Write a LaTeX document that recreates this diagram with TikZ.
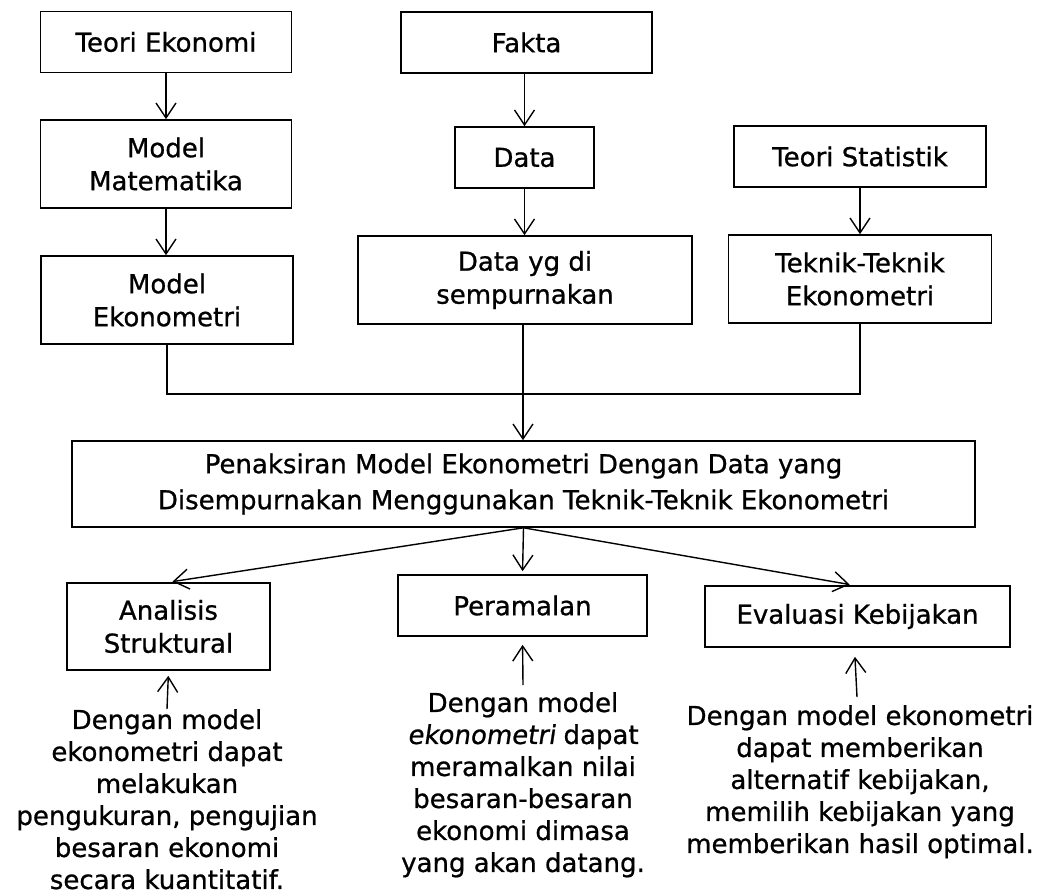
\documentclass[tikz,border=0pt]{standalone}
\usepackage{fontspec}
\setmainfont{DejaVu Sans}
\newfontfamily\diagfont{DejaVu Sans}[FakeBold=0.8,AutoFakeSlant=0.15]
\usetikzlibrary{arrows.meta}
\tikzset{
  box/.style={draw, line width=1.6pt, align=center, inner sep=0pt,
    font=\diagfont\fontsize{26}{33}\selectfont},
  desc/.style={align=center, inner sep=0pt, anchor=north,
    font=\diagfont\fontsize{26}{32}\selectfont},
  arr/.style={line width=1.4pt, -{Straight Barb[length=15pt,width=20pt,line width=1.4pt]}},
  conn/.style={line width=1.6pt}
}
\begin{document}
\begin{tikzpicture}[x=1pt,y=-1pt]
\useasboundingbox (0,0) rectangle (1043,894);
% left column
\node[box, minimum width=251pt, minimum height=61pt] (te) at (166,42) {Teori Ekonomi};
\node[box, minimum width=251pt, minimum height=88pt] (mm) at (166,164) {Model\\Matematika};
\node[box, minimum width=252pt, minimum height=88pt] (me) at (167,300) {Model\\Ekonometri};
% middle column
\node[box, minimum width=251pt, minimum height=61pt] (fk) at (526.5,42.5) {Fakta};
\node[box, minimum width=139pt, minimum height=61pt] (dt) at (524.5,157.5) {Data};
\node[box, minimum width=334pt, minimum height=88pt] (ds) at (525,280) {Data yg di\\sempurnakan};
% right column
\node[box, minimum width=252pt, minimum height=61pt] (ts) at (860,156.5) {Teori Statistik};
\node[box, minimum width=263pt, minimum height=88pt] (tt) at (860,279) {Teknik-Teknik\\Ekonometri};
% main box
\node[box, minimum width=903pt, minimum height=86pt, font=\diagfont\fontsize{26}{36}\selectfont] (pk) at (523.5,484)
  {Penaksiran Model Ekonometri Dengan Data yang\\Disempurnakan Menggunakan Teknik-Teknik Ekonometri};
% outputs
\node[box, minimum width=203pt, minimum height=87pt] (an) at (168.5,626.5) {Analisis\\Struktural};
\node[box, minimum width=249pt, minimum height=61pt] (pr) at (522.5,605.5) {Peramalan};
\node[box, minimum width=305pt, minimum height=61pt] (ev) at (857.5,616.5) {Evaluasi Kebijakan};
% descriptions
\node[desc] (antx) at (167,709) {Dengan model\\ekonometri dapat\\melakukan\\pengukuran, pengujian\\besaran ekonomi\\secara kuantitatif.};
\node[desc] (prtx) at (523,692) {Dengan model\\\textsl{ekonometri} dapat\\meramalkan nilai\\besaran-besaran\\ekonomi dimasa\\yang akan datang.};
\node[desc] (evtx) at (860,705) {Dengan model ekonometri\\dapat memberikan\\alternatif kebijakan,\\memilih kebijakan yang\\memberikan hasil optimal.};
% vertical arrows
\draw[arr] (te.south) -- (mm.north);
\draw[arr] (mm.south) -- (mm.south |- me.north);
\draw[arr] (fk.south -| dt.north) -- (dt.north);
\draw[arr] (dt.south) -- (dt.south |- ds.north);
\draw[arr] (ts.south) -- (tt.north);
% join
\coordinate (jn) at (523,394);
\draw[conn] (me.south) |- (jn) -| (tt.south);
\draw[arr] (ds.south -| jn) -- (jn |- pk.north);
% fan-out
\draw[arr, shorten >=4pt] (pk.south) -- (an.north);
\draw[arr, shorten >=3pt] (pk.south) -- (pr.north);
\draw[arr, shorten >=4pt] (pk.south) -- ([xshift=-4pt]ev.north);
% up arrows
\draw[arr, shorten >=5pt] (antx.north) -- (an.south);
\draw[arr, shorten >=8pt] (prtx.north) ++(0,-7) -- (pr.south);
\draw[arr, shorten >=9pt] ([xshift=-3pt]evtx.north) ++(0,-8) -- ([xshift=-3pt]ev.south);
\end{tikzpicture}
\end{document}
